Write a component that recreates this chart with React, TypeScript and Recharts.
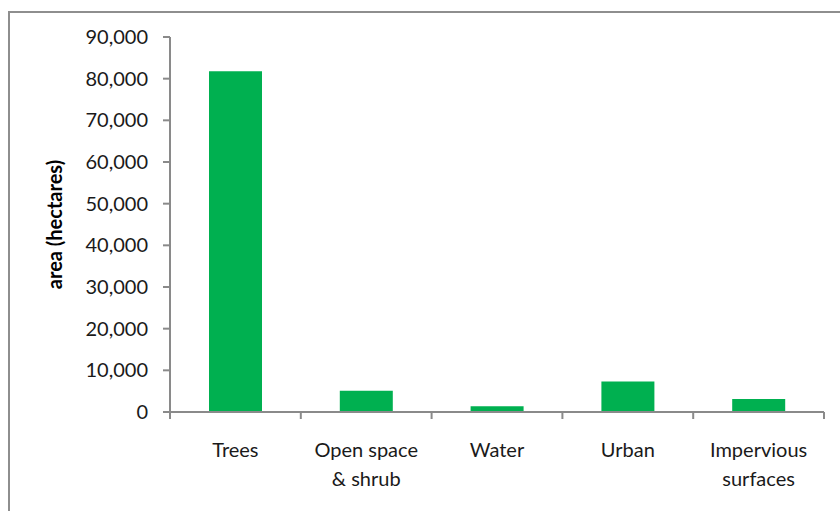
import { BarChart, Bar, XAxis, YAxis, Label } from "recharts";

const categories = ["Trees", "Open space & shrub", "Water", "Urban", "Impervious surfaces"];
const tickLines = [["Trees"], ["Open space", "& shrub"], ["Water"], ["Urban"], ["Impervious", "surfaces"]];
const areaHectares = [81800, 5100, 1400, 7350, 3100];
const yTicks = [0, 10000, 20000, 30000, 40000, 50000, 60000, 70000, 80000, 90000];

const data = categories.map((name, i) => ({ name, area: areaHectares[i] }));

const FONT = "Lato, Carlito, 'Open Sans', sans-serif";
const AXIS = "#8a8a8a";

function CategoryTick(props: any) {
  const { x, y, payload, index } = props;
  const half = payload?.offset ?? 65.4;
  const axisY = y - 7;
  const lines = tickLines[index] || [payload.value];
  return (
    <g>
      <line x1={x - half} y1={axisY} x2={x - half} y2={axisY + 7} stroke={AXIS} strokeWidth={2} />
      {index === categories.length - 1 && (
        <line x1={x + half} y1={axisY} x2={x + half} y2={axisY + 7} stroke={AXIS} strokeWidth={2} />
      )}
      <text x={x} y={axisY + 45} textAnchor="middle" fill="#1a1a1a" fontSize={20} fontFamily={FONT}>
        {lines.map((t: string, i: number) => (
          <tspan key={i} x={x} dy={i === 0 ? 0 : 29}>
            {t}
          </tspan>
        ))}
      </text>
    </g>
  );
}

export default function App() {
  return (
    <div style={{ position: "absolute", left: 0, top: 0, width: 840, height: 511, overflow: "hidden", background: "#fff" }}>
      <div
        style={{
          position: "absolute",
          left: 8,
          top: 11,
          width: 900,
          height: 600,
          border: "2px solid #8e8e8e",
          boxSizing: "border-box",
        }}
      />
      <div style={{ position: "absolute", left: 0, top: 0 }}>
        <BarChart width={840} height={511} data={data} margin={{ top: 37, right: 16, bottom: 0, left: 0 }}>
          <YAxis
            width={170}
            domain={[0, 90000]}
            ticks={yTicks}
            interval={0}
            tickFormatter={(v: number) => v.toLocaleString("en-US")}
            tickSize={7}
            tickMargin={15}
            axisLine={{ stroke: AXIS, strokeWidth: 2 }}
            tickLine={{ stroke: AXIS, strokeWidth: 2 }}
            tick={{ fill: "#1a1a1a", fontSize: 20, fontFamily: FONT }}
          >
            <Label
              value="area (hectares)"
              angle={-90}
              position="insideLeft"
              offset={55}
              style={{ textAnchor: "middle", fontWeight: 700, fontSize: 20, fontFamily: FONT, fill: "#000" }}
            />
          </YAxis>
          <XAxis
            dataKey="name"
            height={99}
            interval={0}
            tickSize={7}
            tickMargin={0}
            tickLine={false}
            axisLine={{ stroke: AXIS, strokeWidth: 2 }}
            tick={<CategoryTick />}
          />
          <Bar dataKey="area" fill="#00B050" barSize={53} isAnimationActive={false} />
        </BarChart>
      </div>
    </div>
  );
}
